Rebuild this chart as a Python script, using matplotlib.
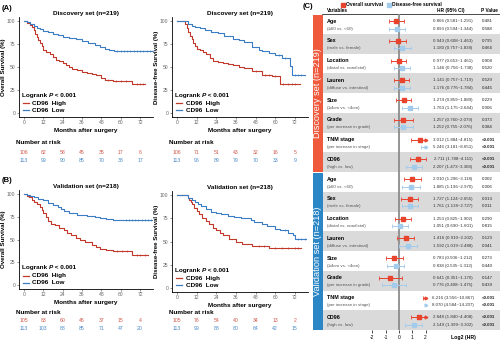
import numpy as np
import matplotlib
matplotlib.use("Agg")
import matplotlib.pyplot as plt
import matplotlib.transforms as mtrans
from matplotlib.patches import Rectangle

plt.rcParams['font.family'] = ['Liberation Sans', 'DejaVu Sans']
plt.rcParams['axes.unicode_minus'] = False

W, H = 500, 341
RED = '#C0392B'
BLUE = '#3A7DC4'
RED_T = '#D0584A'
BLUE_T = '#4A88C8'
OS_COL = '#E8432D'
DFS_COL = '#A3CBEC'

month_ticks = [0, 12, 24, 36, 48, 60, 72]

# ---- Kaplan-Meier curves (time, survival %) ----
a_os_high_t = [0, 2, 4, 5, 6, 7, 8, 9, 10, 11, 12, 14, 16, 18, 20, 22, 24, 26, 28, 30, 33, 36, 39, 42, 45, 48, 50, 55, 67, 75]
a_os_high_s = [100, 98, 96, 94, 90, 86, 83, 79, 76, 73, 69, 66, 64, 61, 58, 56, 54, 52, 50, 48, 47, 45, 43, 42, 41, 38, 36, 35, 32, 32]
a_os_high_c = [52, 57, 60, 63, 70, 72, 74]
a_os_low_t = [0, 2, 4, 6, 8, 10, 12, 15, 18, 21, 24, 28, 32, 36, 40, 44, 47, 50, 53, 56, 82]
a_os_low_s = [100, 99, 97, 95, 93, 91, 89, 88, 86, 85, 83, 82, 80, 78, 76, 74, 72, 70, 68, 67, 67]
a_os_low_c = [58, 60, 62, 64, 66, 68, 70, 72, 74, 76, 78, 80]

a_dfs_high_t = [0, 5, 6, 7, 8, 9, 10, 11, 12, 14, 16, 18, 20, 22, 25, 28, 31, 34, 38, 41, 46, 52, 58, 63, 75]
a_dfs_high_s = [100, 97, 93, 88, 84, 80, 76, 73, 70, 68, 66, 64, 60, 57, 55, 54, 53, 52, 50, 49, 46, 41, 40, 32, 32]
a_dfs_high_c = [48, 54, 56, 60, 65, 68, 70, 72]
a_dfs_low_t = [0, 7, 9, 11, 14, 17, 21, 25, 29, 34, 38, 41, 46, 50, 52, 56, 60, 64, 69, 70, 78]
a_dfs_low_s = [100, 97, 95, 94, 92, 90, 88, 87, 84, 81, 79, 77, 72, 69, 67, 65, 63, 60, 51, 41, 41]
a_dfs_low_c = [62, 66, 72, 74, 76]

b_os_high_t = [0, 2, 3, 5, 6.5, 8, 10, 11, 12, 14, 15, 17, 19, 22, 25, 27, 29, 32, 35, 38, 42, 45, 47, 51, 55, 67, 77]
b_os_high_s = [100, 98, 97, 94, 91, 89, 86, 82, 79, 75, 70, 67, 66, 63, 60, 57, 55, 52, 49, 47, 44, 42, 40, 38, 37, 33, 33]
b_os_high_c = [58, 61, 64, 70, 72, 75]
b_os_low_t = [0, 2, 4, 6, 9, 12, 15, 18, 21, 23, 25, 28, 33, 39, 44, 47, 51, 55, 61, 81]
b_os_low_s = [100, 99, 98, 97, 95, 93, 90, 88, 86, 84, 81, 79, 77, 76, 75, 74, 73, 72, 71, 71]
b_os_low_c = [63, 65, 67, 69, 71, 73, 75, 77, 79]

b_dfs_high_t = [0, 6.5, 7.5, 8.5, 9.5, 10.5, 12, 13.5, 15.5, 17.5, 19.5, 22, 24, 26, 28, 32, 36, 40, 46, 56, 76]
b_dfs_high_s = [100, 97, 95, 93, 90, 86, 83, 80, 75, 72, 69, 65, 62, 59, 57, 53, 50, 47, 45, 43, 43]
b_dfs_high_c = [50, 53, 60, 64, 68, 72, 74]
b_dfs_low_t = [0, 7, 9, 11, 13, 15, 18, 21, 24, 27, 31, 35, 39, 45, 47, 52, 55, 60, 63, 68, 71, 72, 79]
b_dfs_low_s = [100, 97, 95, 93, 90, 88, 85, 82, 81, 80, 78, 76, 75, 73, 71, 69, 67, 64, 62, 59, 57, 53, 53]
b_dfs_low_c = [66, 74, 76, 78]

# ---- numbers at risk ----
a_os_risk_high = [106, 82, 58, 45, 35, 17, 6]
a_os_risk_low = [113, 99, 90, 85, 70, 38, 17]
a_dfs_risk_high = [106, 71, 51, 43, 32, 16, 5]
a_dfs_risk_low = [113, 96, 89, 79, 70, 33, 9]
b_os_risk_high = [105, 83, 60, 46, 37, 15, 4]
b_os_risk_low = [113, 103, 88, 85, 71, 47, 20]
b_dfs_risk_high = [105, 76, 54, 40, 34, 13, 2]
b_dfs_risk_low = [113, 99, 88, 80, 64, 42, 15]

# ---- forest plot ----
variables = ['Age', 'Sex', 'Location', 'Lauren', 'Size', 'Grade', 'TNM stage', 'CD96']
contrasts = ['(≥60 vs. <60)', '(male vs. female)', '(distal vs. nondistal)', '(diffuse vs. intestinal)',
             '(≥4cm vs. <4cm)', '(per increase in grade)', '(per increase in stage)', '(high vs. low)']

disc_os_hr = [0.866, 0.943, 0.977, 1.141, 1.274, 1.257, 3.012, 2.711]
disc_os_lo = [0.581, 0.608, 0.653, 0.757, 0.859, 0.760, 1.884, 1.788]
disc_os_hi = [1.291, 1.463, 1.461, 1.719, 1.889, 2.079, 4.815, 4.111]
disc_os_p = ['0.481', '0.795', '0.908', '0.529', '0.229', '0.373', '<0.001', '<0.001']
disc_dfs_hr = [0.893, 1.180, 1.146, 1.176, 1.763, 1.252, 5.246, 2.207]
disc_dfs_lo = [0.594, 0.757, 0.756, 0.776, 1.175, 0.755, 3.181, 1.473]
disc_dfs_hi = [1.344, 1.838, 1.738, 1.784, 2.644, 2.076, 8.651, 3.308]
disc_dfs_p = ['0.588', '0.466', '0.520', '0.445', '0.006', '0.384', '<0.001', '<0.001']

val_os_hr = [2.010, 1.727, 1.253, 1.416, 0.783, 0.641, 6.216, 2.848]
val_os_lo = [1.296, 1.124, 0.825, 0.910, 0.506, 0.351, 3.556, 1.840]
val_os_hi = [3.118, 2.655, 1.902, 2.202, 1.212, 1.170, 10.867, 4.408]
val_os_p = ['0.002', '0.013', '0.290', '0.123', '0.273', '0.147', '<0.001', '<0.001']
val_dfs_hr = [1.885, 1.761, 1.051, 1.592, 0.838, 0.776, 8.070, 2.149]
val_dfs_lo = [1.196, 1.138, 0.690, 1.019, 0.535, 0.408, 4.584, 1.399]
val_dfs_hi = [2.970, 2.727, 1.601, 2.488, 1.312, 1.475, 14.207, 3.302]
val_dfs_p = ['0.006', '0.011', '0.815', '0.041', '0.440', '0.439', '<0.001', '<0.001']

fig = plt.figure(figsize=(5, 3.41), dpi=100)


def px_axes(l, t, r, b):
    return fig.add_axes([l / W, 1 - b / H, (r - l) / W, (b - t) / H])


# background axes in pixel units for labels / table
bg = fig.add_axes([0, 0, 1, 1])
bg.set_xlim(0, W)
bg.set_ylim(H, 0)
bg.axis('off')


def km_curve(ax, t, s, cens, color):
    t = np.asarray(t)
    s = np.asarray(s)
    ax.step(t, s, where='post', color=color, lw=0.8)
    idx = np.searchsorted(t, cens, side='right') - 1
    ax.plot(cens, s[idx], ls='none', marker='|', ms=1.8, mew=0.45, color=color)


def km_panel(box, high, low, title, ylabel, risk_high, risk_low, rows):
    ax = px_axes(*box)
    ax.patch.set_alpha(0)
    km_curve(ax, *high, RED)
    km_curve(ax, *low, BLUE)
    ax.set_xlim(-3, 80)
    ax.set_ylim(-4.5, 104.5)
    ax.set_xticks(month_ticks)
    ax.set_yticks([0, 25, 50, 75, 100])
    for sp in ['top', 'right']:
        ax.spines[sp].set_visible(False)
    for sp in ['left', 'bottom']:
        ax.spines[sp].set_linewidth(0.6)
    ax.tick_params(labelsize=3.6, length=1.5, width=0.5, pad=1, colors='#666666')
    ax.set_title(title, fontsize=4.6, fontweight='bold', pad=1.5)
    ax.set_ylabel(ylabel, fontsize=4.4, fontweight='bold', labelpad=1)
    ax.set_xlabel('Months after surgery', fontsize=4.6, fontweight='bold', labelpad=2)

    # legend
    fs = 4.6
    t1 = ax.text(0.02, 0.19, 'Logrank ', transform=ax.transAxes, fontsize=fs,
                 fontweight='bold', va='bottom')
    t2 = ax.annotate('P', xy=(1, 0), xycoords=t1, va='bottom', fontsize=fs,
                     fontweight='bold', fontstyle='italic')
    ax.annotate(' < 0.001', xy=(1, 0), xycoords=t2, va='bottom', fontsize=fs, fontweight='bold')
    for yy, col, lab in [(0.135, RED, 'CD96  High'), (0.065, BLUE, 'CD96  Low')]:
        ax.plot([0.03, 0.075], [yy, yy], color=col, lw=0.9, transform=ax.transAxes)
        ax.text(0.10, yy, lab, transform=ax.transAxes, fontsize=fs, fontweight='bold', va='center')

    # numbers at risk
    tr = mtrans.blended_transform_factory(ax.transData, fig.transFigure)
    fig.text((box[0] - 3) / W, 1 - rows[0] / H, 'Number at risk', fontsize=4.6,
             fontweight='bold', va='center')
    for m, hv, lv in zip(month_ticks, risk_high, risk_low):
        ax.text(m, 1 - rows[1] / H, str(hv), transform=tr, fontsize=3.7, color=RED_T,
                ha='center', va='center')
        ax.text(m, 1 - rows[2] / H, str(lv), transform=tr, fontsize=3.7, color=BLUE_T,
                ha='center', va='center')
    return ax


km_panel((19, 17, 153, 117), (a_os_high_t, a_os_high_s, a_os_high_c),
         (a_os_low_t, a_os_low_s, a_os_low_c), 'Discovery set (n=219)',
         'Overall Survival (%)', a_os_risk_high, a_os_risk_low, (142, 152, 160))
km_panel((172, 17, 308, 117), (a_dfs_high_t, a_dfs_high_s, a_dfs_high_c),
         (a_dfs_low_t, a_dfs_low_s, a_dfs_low_c), 'Discovery set (n=219)',
         'Disease-free Survival (%)', a_dfs_risk_high, a_dfs_risk_low, (142, 152, 160))
km_panel((19, 190, 153, 289), (b_os_high_t, b_os_high_s, b_os_high_c),
         (b_os_low_t, b_os_low_s, b_os_low_c), 'Validation set (n=218)',
         'Overall Survival (%)', b_os_risk_high, b_os_risk_low, (312, 320, 328))
km_panel((172, 191, 308, 292), (b_dfs_high_t, b_dfs_high_s, b_dfs_high_c),
         (b_dfs_low_t, b_dfs_low_s, b_dfs_low_c), 'Validation set (n=218)',
         'Disease-free Survival (%)', b_dfs_risk_high, b_dfs_risk_low, (312, 320, 328))

bg.text(2, 8, '(A)', fontsize=5.5, fontweight='bold', va='center')
bg.text(2, 181, '(B)', fontsize=5.5, fontweight='bold', va='center')
bg.text(303, 6, '(C)', fontsize=5.5, fontweight='bold', va='center')

# ---- forest table (panel C) ----
top, bot = 14, 330
n_blocks = 16
bh = (bot - top) / n_blocks

# header + legend
bg.plot(343, 5, marker='s', ms=2.2, color=OS_COL, ls='none')
bg.text(346.5, 5, 'Overall survival', fontsize=3.5, fontweight='bold', va='center')
bg.plot(389, 5, marker='s', ms=2.2, color=DFS_COL, ls='none')
bg.text(392.5, 5, 'Disease-free survival', fontsize=3.5, fontweight='bold', va='center')
bg.text(327, 10.5, 'Variables', fontsize=3.4, fontweight='bold', va='center')
bg.text(451, 10.5, 'HR (95% CI)', fontsize=3.4, fontweight='bold', va='center', ha='center')
bg.text(489, 10.5, 'P Value', fontsize=3.4, fontweight='bold', va='center', ha='center')
bg.plot([322, 500], [13.6, 13.6], color='black', lw=0.5)

# side bars
bg.add_patch(Rectangle((313, top + 0.8), 9.5, 8 * bh - 1.3, color='#EF5A3C', lw=0))
bg.add_patch(Rectangle((313, top + 8 * bh + 0.5), 9.5, 8 * bh - 0.5, color='#2B86C6', lw=0))
bg.text(317.8, top + 4 * bh, 'Discovery set (n=219)', rotation=90, color='white', fontsize=6.6,
        ha='center', va='center')
bg.text(317.8, top + 12 * bh, 'Validation set (n=218)', rotation=90, color='white', fontsize=6.6,
        ha='center', va='center')

sets = [
    (0, disc_os_hr, disc_os_lo, disc_os_hi, disc_os_p, disc_dfs_hr, disc_dfs_lo, disc_dfs_hi, disc_dfs_p),
    (8, val_os_hr, val_os_lo, val_os_hi, val_os_p, val_dfs_hr, val_dfs_lo, val_dfs_hi, val_dfs_p),
]
for k0, ohr, olo, ohi, op, dhr, dlo, dhi, dp in sets:
    for i in range(8):
        k = k0 + i
        y0 = top + k * bh
        if i % 2 == 1:
            bg.add_patch(Rectangle((322.5, y0), 500 - 322.5, bh, color='#DADADA', lw=0, zorder=0))
        bg.text(327, y0 + 0.36 * bh, variables[i], fontsize=3.9, fontweight='bold', va='center')
        bg.text(327, y0 + 0.74 * bh, contrasts[i], fontsize=3.2, color='#555555', va='center')
        for frac, hr, lo, hi, p in [(0.36, ohr, olo, ohi, op), (0.74, dhr, dlo, dhi, dp)]:
            bg.text(453, y0 + frac * bh, f'{hr[i]:.3f} ({lo[i]:.3f}~{hi[i]:.3f})', fontsize=3.2,
                    color='#333333', va='center', ha='center')
            bg.text(482, y0 + frac * bh, p[i], fontsize=3.2, color='#222222', va='center',
                    fontweight='bold' if p[i].startswith('<') else 'normal')

XMIN, XMAX = -2.33, 2.1
fx = px_axes(368, top, 427, bot)
fx.patch.set_alpha(0)
fx.set_xlim(XMIN, XMAX)
fx.set_ylim(n_blocks, 0)
fx.axvline(0, color='#8C8C8C', lw=1.3, zorder=1)


def forest_series(k0, hr, lo, hi, frac, color, ms):
    hr, lo, hi = np.log2(hr), np.log2(lo), np.log2(hi)
    y = k0 + np.arange(len(hr)) + frac
    fx.errorbar(hr, y, xerr=[hr - lo, hi - hr], fmt='s', ms=ms, color=color, ecolor=color,
                elinewidth=0.7, capsize=1.2, capthick=0.6, zorder=3)
    over = hi > XMAX
    fx.plot(np.full(over.sum(), XMAX - 0.08), y[over], ls='none', marker='>', ms=2.0,
            color=color, zorder=3, clip_on=False)


for k0, ohr, olo, ohi, op, dhr, dlo, dhi, dp in sets:
    forest_series(k0, ohr, olo, ohi, 0.36, OS_COL, 2.6)
    forest_series(k0, dhr, dlo, dhi, 0.74, DFS_COL, 2.4)

fx.set_xticks([-2, -1, 0, 1, 2])
fx.set_yticks([])
for sp in fx.spines.values():
    sp.set_visible(False)
fx.tick_params(axis='x', labelsize=3.5, length=1.8, width=0.5, pad=1.5)
bg.text(463, 337, 'Log2 (HR)', fontsize=3.7, fontweight='bold', va='center', ha='center')

fig.savefig('out.png', dpi=100)
